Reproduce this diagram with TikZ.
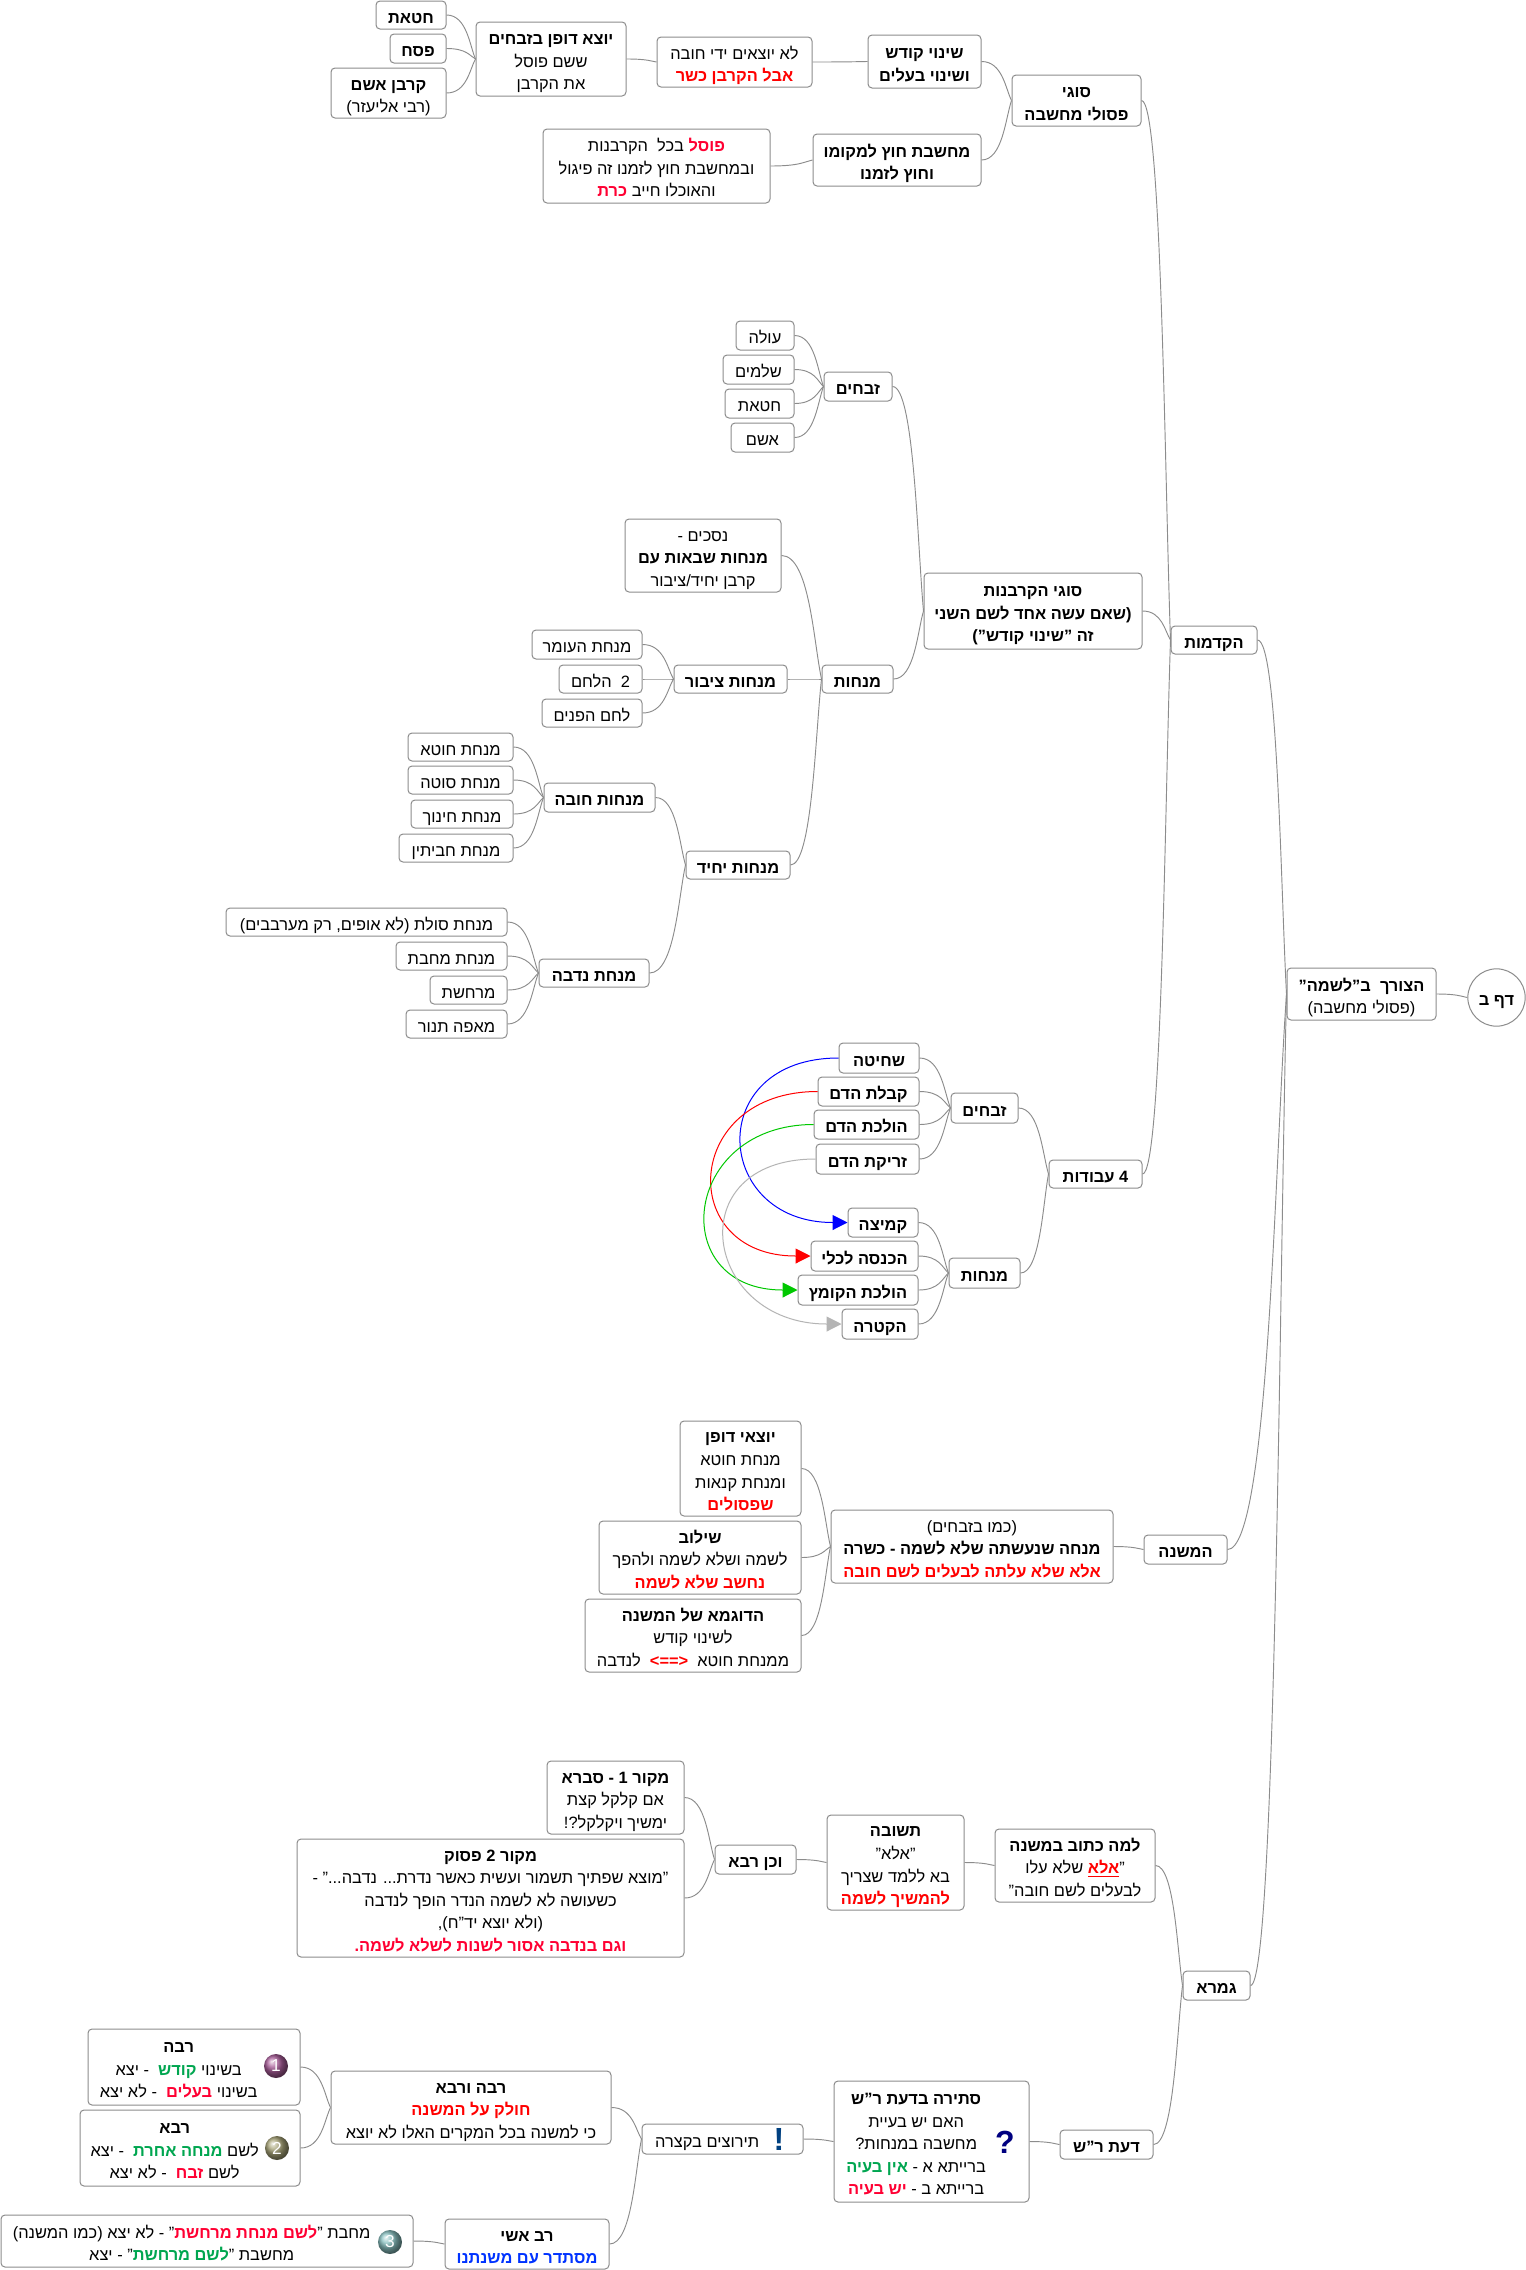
\documentclass[tikz,border=0pt]{standalone}
\usepackage{fontspec}
\setmainfont[Script=Hebrew]{Liberation Sans}
\usetikzlibrary{calc,arrows.meta,shadings}
\TeXXeTstate=1
\definecolor{cred}{HTML}{FF0000}
\definecolor{cpink}{HTML}{FF0033}
\definecolor{cgreen}{HTML}{00A650}
\definecolor{cblue}{HTML}{0033FF}
\definecolor{lineg}{HTML}{8C8C8C}
\definecolor{ballp}{HTML}{A85C98}
\definecolor{ballo}{HTML}{A8A478}
\definecolor{ballt}{HTML}{88C0C0}
\definecolor{arcg}{HTML}{00C800}
\definecolor{arcy}{HTML}{B4B4B4}
\newcommand\rl[1]{\beginR #1\endR}
% a line in a box with an icon: centred on an axis moved left of the box centre
\newcommand\sln[1]{\hbox to 0pt{\hss#1\kern23pt\hss}}
\newcommand\bd[1]{\textbf{#1}}
% colour specials must stay outside \beginR...\endR: mixed lines are written piece by piece, left to right as seen
\newcommand\rb[1]{\textcolor{cred}{\bfseries #1}}
\newcommand\pb[1]{\textcolor{cpink}{\bfseries #1}}
\newcommand\gb[1]{\textcolor{cgreen}{\bfseries #1}}
\newcommand\bb[1]{\textcolor{cblue}{\bfseries #1}}
\newcommand\ub[1]{\textcolor{cred}{\underline{\hbox{\bfseries #1}}}}
\newcommand\tstrut{\rule{0pt}{15.4pt}}
\newcommand\bstrut{\rule[-3pt]{0pt}{3pt}}
\tikzset{
  box/.style={draw=lineg,line width=0.75pt,fill=white,rounded corners=3pt,inner sep=0pt,align=center,
    font=\fontsize{12.3pt}{16.9pt}\selectfont},
  conn/.style={draw=lineg,line width=0.7pt},
  arc/.style={line width=0.75pt,-{Triangle[length=11.25pt,width=11.25pt]}},
  ballnum/.style={circle,inner sep=0pt,minimum size=18pt,text=white,font=\fontsize{13pt}{13pt}\selectfont},
  sign/.style={inner sep=0pt,font=\fontsize{24pt}{24pt}\selectfont\bfseries}
}
\newcommand\bx[6]{\node[box,minimum width={(#4-#2)*0.75pt},minimum height={(#5-#3)*0.75pt}] (#1) at ({(#2+#4)/2},{(#3+#5)/2}) {\tstrut#6\bstrut};}
\newcommand\cn[2]{\draw[conn] let \p1=(#1.east),\p2=(#2.west),\n1={\x2-\x1},\n2={\y2-\y1} in (\p1) .. controls +(.7*\n1,0) and +(-.2*\n1,-.3*\n2) .. (\p2);}
\newcommand\ar[4]{\draw[arc,#1] (#2.west) .. controls +(-#4,0) and +(-#4,0) .. (#3.west);}
\begin{document}
\begin{tikzpicture}[x=0.75pt,y=-0.75pt]
\fill[white] (0,0) rectangle (1526,2270);
\useasboundingbox (0,0) rectangle (1526,2270);
% top group
\bx{hatat}{376}{1}{446}{29}{\rl{\bd{חטאת}}}
\bx{pesach}{390}{34}{446}{63}{\rl{\bd{פסח}}}
\bx{ashamq}{331}{68}{446}{118}{\rl{\bd{קרבן אשם}}\\\rl{(רבי אליעזר)}}
\bx{dofen}{476}{22}{626}{96}{\rl{\bd{יוצא דופן בזבחים}}\\\rl{ששם פוסל}\\\rl{את הקרבן}}
\bx{lo}{657}{37}{812}{87}{\rl{לא יוצאים ידי חובה}\\\rb{\rl{אבל הקרבן כשר}}}
\bx{shinui}{868}{35}{981}{88}{\rl{\bd{שינוי קודש}}\\\rl{\bd{ושינוי בעלים}}}
\bx{sugei}{1012}{75}{1141}{126}{\rl{\bd{סוגי}}\\\rl{\bd{פסולי מחשבה}}}
\bx{chutz}{813}{134}{981}{186}{\rl{\bd{מחשבת חוץ למקומו}}\\\rl{\bd{וחוץ לזמנו}}}
\bx{posel}{543}{129}{770}{203}{\rl{בכל~ הקרבנות}\ \pb{\rl{פוסל}}\\\rl{ובמחשבת חוץ לזמנו זה פיגול}\\\pb{\rl{כרת}}\ \rl{והאוכלו חייב}}
% zevachim
\bx{olah}{736}{321}{794}{350}{\rl{עולה}}
\bx{shlamim}{723}{355}{794}{384}{\rl{שלמים}}
\bx{hatatb}{725}{389}{794}{418}{\rl{חטאת}}
\bx{ashamb}{731}{423}{794}{452}{\rl{אשם}}
\bx{zevachim}{824}{372}{892}{401}{\rl{\bd{זבחים}}}
% menachot
\bx{nesachim}{625}{519}{781}{592}{\rl{נסכים -}\\\rl{\bd{מנחות שבאות עם}}\\\rl{קרבן יחיד/ציבור}}
\bx{omer}{532}{630}{642}{659}{\rl{מנחת העומר}}
\bx{halechem}{559}{665}{642}{693}{\rl{2~~הלחם}}
\bx{panim}{542}{699}{642}{727}{\rl{לחם הפנים}}
\bx{tzibur}{674}{665}{787}{693}{\rl{\bd{מנחות ציבור}}}
\bx{menachot}{822}{665}{893}{693}{\rl{\bd{מנחות}}}
\bx{sugeik}{924}{573}{1142}{649}{\rl{\bd{סוגי הקרבנות}}\\\rl{\bd{(שאם עשה אחד לשם השני}}\\\rl{\bd{זה "שינוי קודש")}}}
\bx{hotei}{408}{733}{513}{761}{\rl{מנחת חוטא}}
\bx{sotah}{408}{766}{513}{794}{\rl{מנחת סוטה}}
\bx{chinuch}{411}{800}{513}{828}{\rl{מנחת חינוך}}
\bx{chavitin}{399}{834}{513}{862}{\rl{מנחת חביתין}}
\bx{chova}{544}{783}{655}{812}{\rl{\bd{מנחות חובה}}}
\bx{yachid}{686}{851}{790}{879}{\rl{\bd{מנחות יחיד}}}
\bx{nedava}{539}{959}{649}{987}{\rl{\bd{מנחת נדבה}}}
\bx{solet}{226}{908}{507}{936}{\rl{מנחת סולת (לא אופים, רק מערבבים)}}
\bx{machvat}{396}{942}{507}{970}{\rl{מנחת מחבת}}
\bx{marcheshet}{430}{976}{507}{1004}{\rl{מרחשת}}
\bx{tanur}{406}{1010}{507}{1038}{\rl{מאפה תנור}}
% avodot
\bx{shechita}{839}{1043}{919}{1073}{\rl{\bd{שחיטה}}}
\bx{kabala}{818}{1077}{919}{1106}{\rl{\bd{קבלת הדם}}}
\bx{holachad}{814}{1110}{919}{1139}{\rl{\bd{הולכת הדם}}}
\bx{zerika}{816}{1144}{919}{1174}{\rl{\bd{זריקת הדם}}}
\bx{zevav}{951}{1093}{1018}{1123}{\rl{\bd{זבחים}}}
\bx{avodot}{1049}{1160}{1142}{1188}{\rl{\bd{4 עבודות}}}
\bx{kemitza}{848}{1208}{918}{1237}{\rl{\bd{קמיצה}}}
\bx{hachnasa}{811}{1241}{918}{1271}{\rl{\bd{הכנסה לכלי}}}
\bx{holachak}{798}{1275}{918}{1305}{\rl{\bd{הולכת הקומץ}}}
\bx{haktara}{842}{1309}{918}{1339}{\rl{\bd{הקטרה}}}
\bx{menav}{949}{1258}{1020}{1288}{\rl{\bd{מנחות}}}
% mishna
\bx{yotzei}{680}{1421}{801}{1516}{\rl{\bd{יוצאי דופן}}\\\rl{מנחת חוטא}\\\rl{ומנחת קנאות}\\\rb{\rl{שפסולים}}}
\bx{shiluv}{599}{1521}{801}{1594}{\rl{\bd{שילוב}}\\\rl{לשמה ושלא לשמה ולהפך}\\\rb{\rl{נחשב שלא לשמה}}}
\bx{dugma}{585}{1599}{801}{1672}{\rl{\bd{הדוגמא של המשנה}}\\\rl{לשינוי קודש}\\\rl{לנדבה}~~\rb{<==>}~\ \rl{ממנחת חוטא}}
\bx{mincha}{831}{1510}{1113}{1583}{\rl{(כמו בזבחים)}\\\rl{\bd{מנחה שנעשתה שלא לשמה - כשרה}}\\\rb{\rl{אלא שלא עלתה לבעלים לשם חובה}}}
\bx{mishna}{1144}{1535}{1227}{1564}{\rl{\bd{המשנה}}}
% gemara
\bx{mekor1}{547}{1761}{684}{1834}{\rl{\bd{מקור 1 - סברא}}\\\rl{אם קלקל קצת}\\\rl{ימשיך ויקלקל?!}}
\bx{mekor2}{297}{1839}{684}{1957}{\rl{\bd{מקור 2 פסוק}}\\\rl{"מוצא שפתיך תשמור ועשית כאשר נדרת... נדבה..." -}\\\rl{כשעושה לא לשמה הנדר הופך לנדבה}\\\rl{(ולא יוצא יד"ח),}\\\pb{\rl{וגם בנדבה אסור לשנות לשלא לשמה.}}}
\bx{vechen}{715}{1845}{796}{1874}{\rl{\bd{וכן רבא}}}
\bx{teshuva}{827}{1815}{964}{1910}{\rl{\bd{תשובה}}\\\rl{"אלא"}\\\rl{בא ללמד שצריך}\\\rb{\rl{להמשיך לשמה}}}
\bx{lama}{995}{1829}{1155}{1902}{\rl{\bd{למה כתוב במשנה}}\\\rl{שלא עלו}\ \ub{\rl{אלא}}\rl{"}\\\rl{לבעלים לשם חובה"}}
\bx{gemara}{1183}{1971}{1250}{2000}{\rl{\bd{גמרא}}}
\bx{hakdamot}{1171}{626}{1257}{654}{\rl{\bd{הקדמות}}}
\bx{root}{1287}{968}{1436}{1020}{\rl{\bd{הצורך~ ב"לשמה"}}\\\rl{(פסולי מחשבה)}}
\node[box,circle,minimum size=43pt] (daf) at (1496.5,997.5) {\tstrut\rl{\bd{דף ב}}\bstrut};
% bottom
\bx{raba}{88}{2029}{300}{2105}{\sln{\rl{\bd{רבה}}}\\\sln{\rl{- יצא}\ ~\gb{\rl{קודש}}\ \rl{בשינוי}}\\\sln{\rl{- לא יצא}\ ~\pb{\rl{בעלים}}\ \rl{בשינוי}}}
\bx{rava}{80}{2110}{300}{2186}{\sln{\rl{\bd{רבא}}}\\\sln{\rl{- יצא}\ ~\gb{\rl{מנחה אחרת}}\ \rl{לשם}}\\\sln{\rl{- לא יצא}\ ~\pb{\rl{זבח}}\ \rl{לשם}}}
\bx{ravav}{331}{2071}{611}{2144}{\rl{\bd{רבה ורבא}}\\\rb{\rl{חולק על המשנה}}\\\rl{כי למשנה בכל המקרים האלו לא יוצא}}
\bx{ashi}{445}{2219}{609}{2269}{\rl{\bd{רב אשי}}\\\bb{\rl{מסתדר עם משנתנו}}}
\bx{three}{1}{2215}{413}{2267}{\sln{\rl{" - לא יצא (כמו המשנה)}\pb{\rl{לשם מנחת מרחשת}}\rl{מחבת "}}\\\sln{\rl{" - יצא}\gb{\rl{לשם מרחשת}}\rl{מחשבת "}}}
\bx{terutzim}{642}{2124}{803}{2154}{\sln{\rl{תירוצים בקצרה}}}
\bx{stira}{834}{2081}{1029}{2202}{\sln{\rl{\bd{סתירה בדעת ר"ש}}}\\\sln{\rl{האם יש בעיית}}\\\sln{\rl{מחשבה במנחות?}}\\\sln{\gb{\rl{אין בעיה}}\ \rl{ברייתא א -}}\\\sln{\pb{\rl{יש בעיה}}\ \rl{ברייתא ב -}}}
\bx{daat}{1060}{2130}{1153}{2159}{\rl{\bd{דעת ר"ש}}}
% icons
\node[ballnum,ball color=ballp] (i1) at (276,2066) {1};
\node[ballnum,ball color=ballo] (i2) at (277,2148) {2};
\node[ballnum,ball color=ballt] (i3) at (390,2242) {3};
\node[sign,text={blue!50!cyan!50!black}] (iex) at (779,2139) {!};
\node[sign,text={blue!50!black}] (iq) at (1005,2142) {?};
% connectors
\cn{hatat}{dofen}\cn{pesach}{dofen}\cn{ashamq}{dofen}\cn{dofen}{lo}\cn{lo}{shinui}\cn{shinui}{sugei}\cn{chutz}{sugei}\cn{posel}{chutz}\cn{sugei}{hakdamot}
\cn{olah}{zevachim}\cn{shlamim}{zevachim}\cn{hatatb}{zevachim}\cn{ashamb}{zevachim}\cn{zevachim}{sugeik}
\cn{nesachim}{menachot}\cn{tzibur}{menachot}\cn{yachid}{menachot}\cn{menachot}{sugeik}\cn{sugeik}{hakdamot}
\cn{omer}{tzibur}\cn{halechem}{tzibur}\cn{panim}{tzibur}
\cn{hotei}{chova}\cn{sotah}{chova}\cn{chinuch}{chova}\cn{chavitin}{chova}\cn{chova}{yachid}\cn{nedava}{yachid}
\cn{solet}{nedava}\cn{machvat}{nedava}\cn{marcheshet}{nedava}\cn{tanur}{nedava}
\cn{shechita}{zevav}\cn{kabala}{zevav}\cn{holachad}{zevav}\cn{zerika}{zevav}\cn{zevav}{avodot}
\cn{kemitza}{menav}\cn{hachnasa}{menav}\cn{holachak}{menav}\cn{haktara}{menav}\cn{menav}{avodot}\cn{avodot}{hakdamot}
\cn{yotzei}{mincha}\cn{shiluv}{mincha}\cn{dugma}{mincha}\cn{mincha}{mishna}\cn{mishna}{root}
\cn{mekor1}{vechen}\cn{mekor2}{vechen}\cn{vechen}{teshuva}\cn{teshuva}{lama}\cn{lama}{gemara}\cn{daat}{gemara}\cn{gemara}{root}
\cn{stira}{daat}\cn{terutzim}{stira}\cn{ravav}{terutzim}\cn{ashi}{terutzim}\cn{raba}{ravav}\cn{rava}{ravav}\cn{three}{ashi}
\cn{hakdamot}{root}\cn{root}{daf}
% colored arcs
\ar{blue}{shechita}{kemitza}{135}
\ar{red}{kabala}{hachnasa}{135}
\ar{arcg}{holachad}{holachak}{132}
\ar{arcy}{zerika}{haktara}{138}
\end{tikzpicture}
\end{document}
